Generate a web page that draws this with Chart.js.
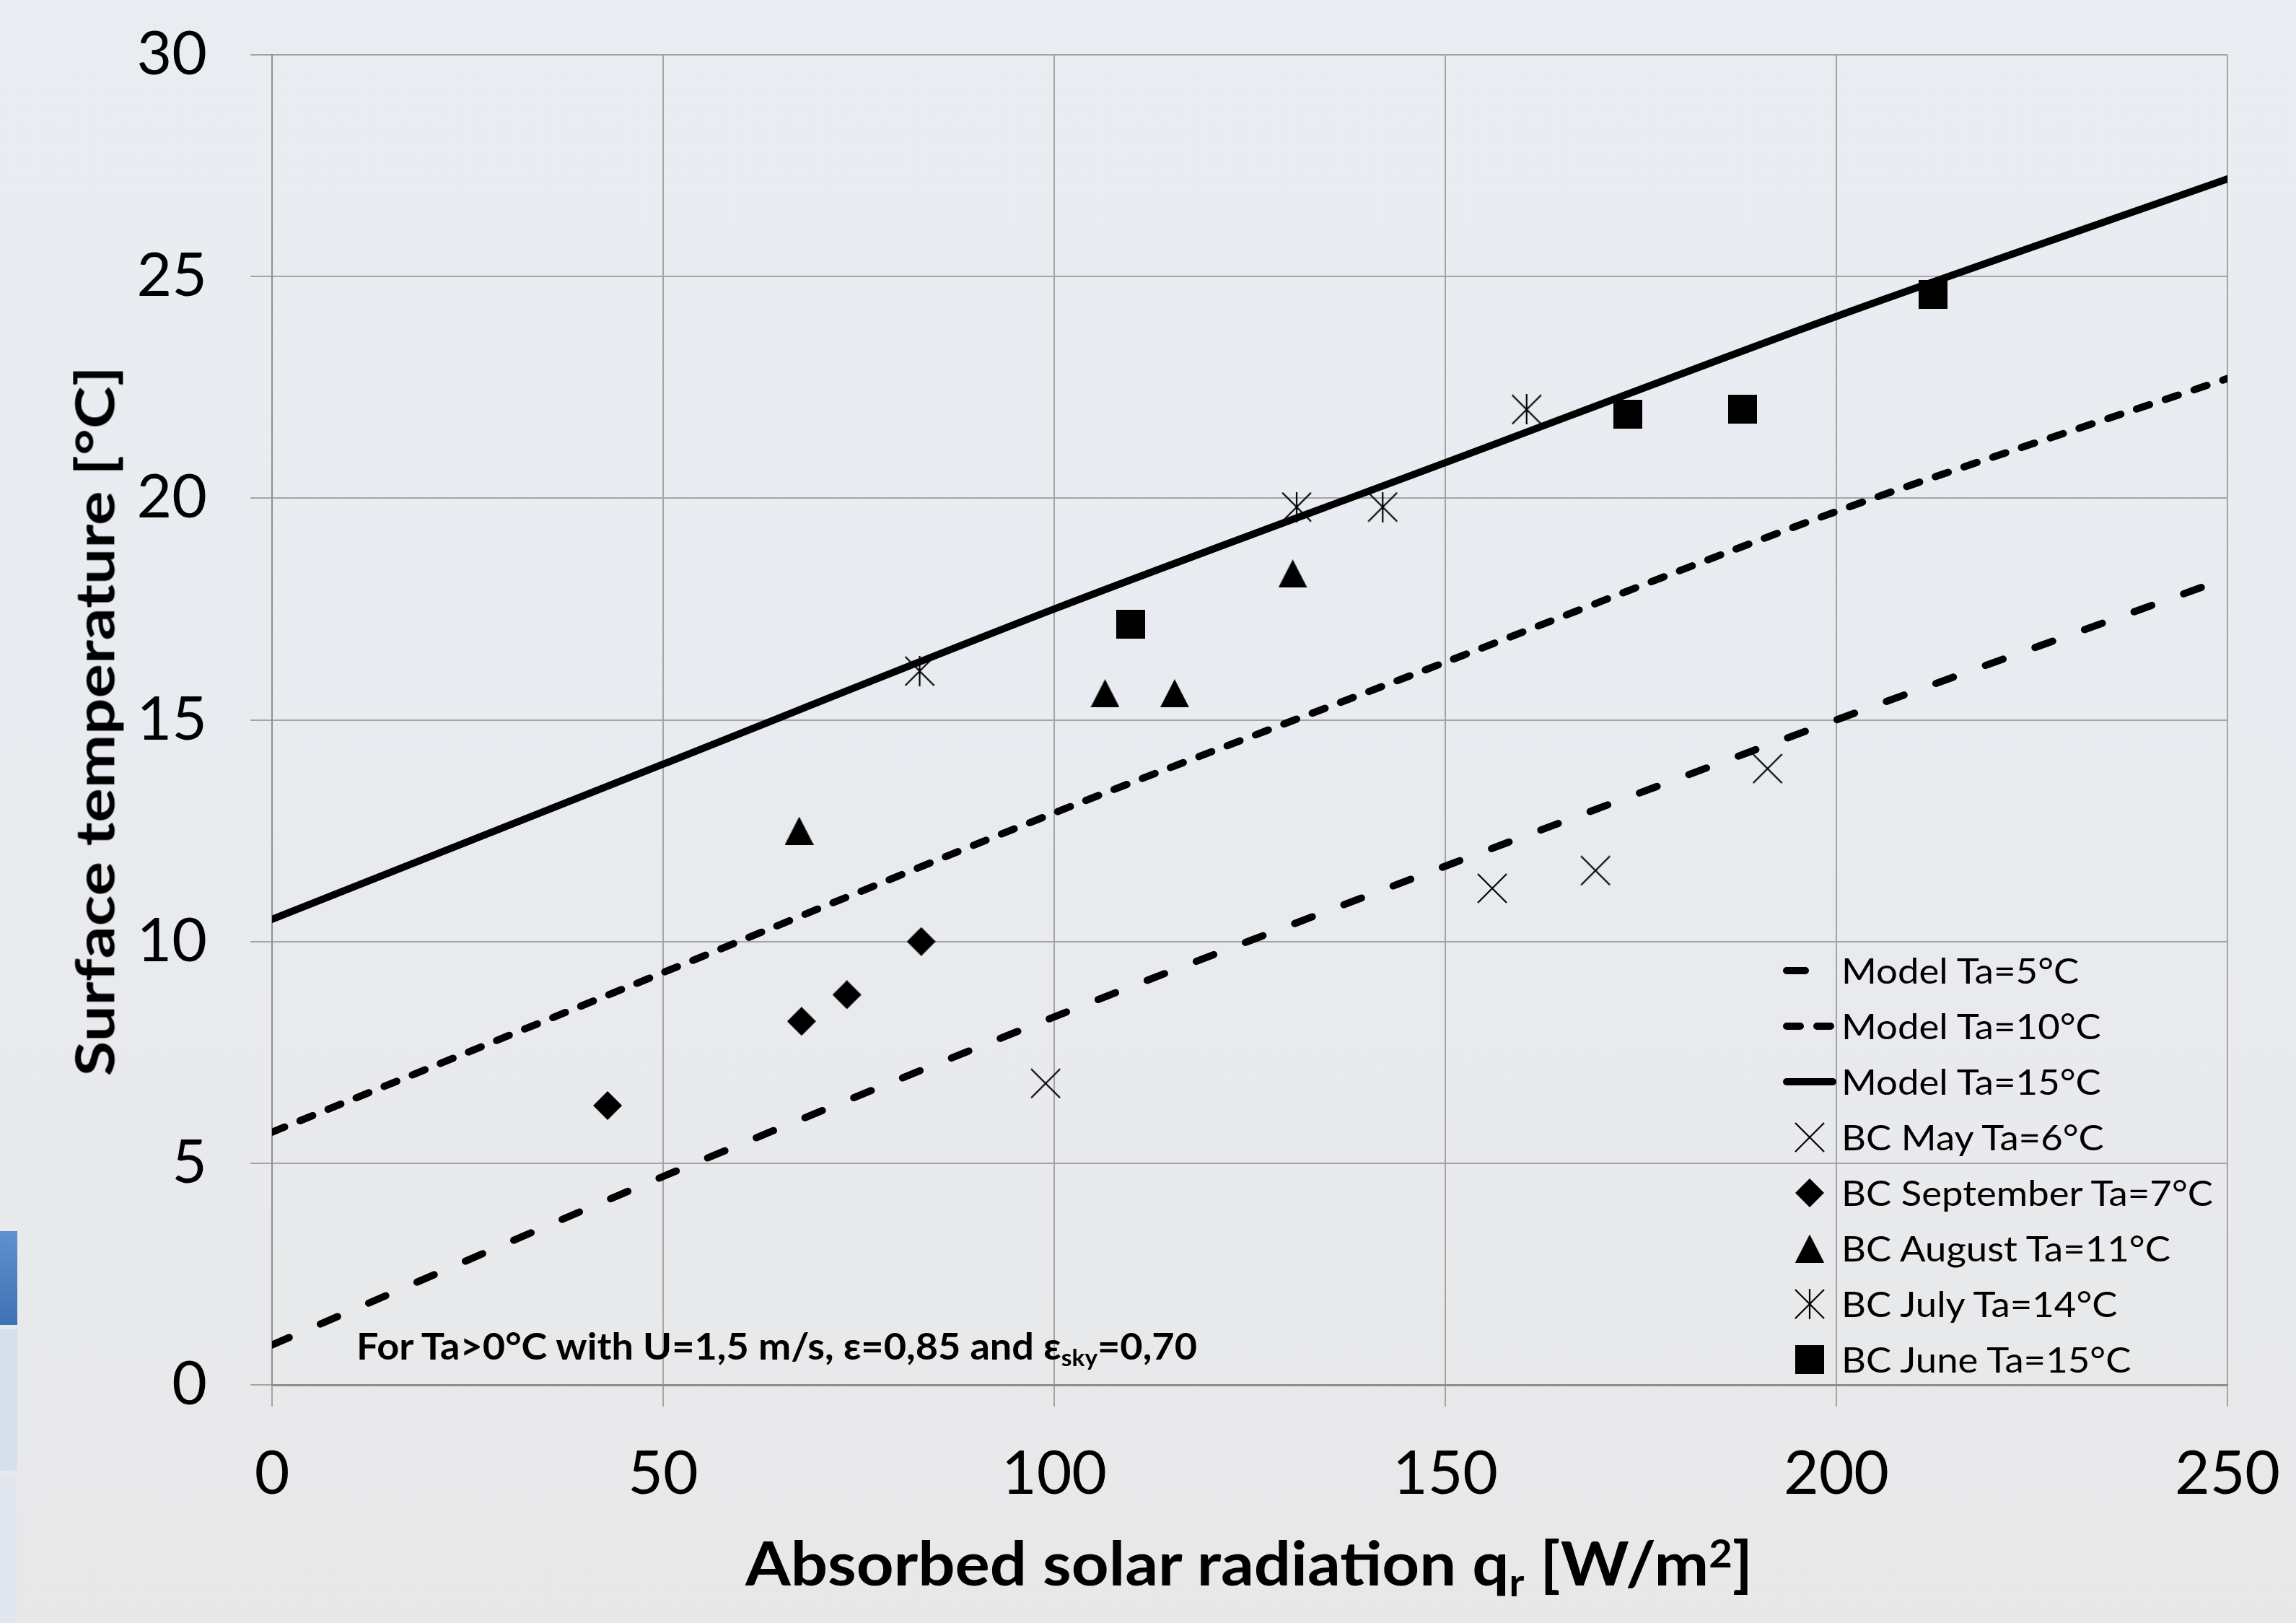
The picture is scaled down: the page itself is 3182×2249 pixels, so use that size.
<!DOCTYPE html>
<html><head><meta charset="utf-8">
<script src="https://cdn.jsdelivr.net/npm/chart.js@4.4.1/dist/chart.umd.min.js"></script>
<style>
html,body{margin:0;padding:0;}
body{width:3182px;height:2249px;overflow:hidden;position:relative;
  background:linear-gradient(180deg,#e9ecf1 0%,#e8ebef 45%,#e8e8e9 100%);
  font-family:Lato,'Open Sans',sans-serif;}
#c{position:absolute;left:0;top:0;}
.t{position:absolute;white-space:nowrap;color:#000;line-height:1.2;left:0;top:0;}
.t sub,.t sup{font-size:0.62em;line-height:0;position:relative;vertical-align:baseline;}
.t sub{top:0.28em;}
.t sup{top:-0.48em;}
.deco{position:absolute;left:0;width:24px;}
</style></head><body>
<div class="deco" style="top:1706px;height:130px;background:linear-gradient(180deg,#5f90cf,#3f72b4);"></div>
<div class="deco" style="top:1842px;height:196px;background:#d6dfec;"></div>
<div class="deco" style="top:2043px;height:206px;background:#e2e7ef;"></div>
<canvas id="c" width="3182" height="2249"></canvas>
<div id="ytitle" class="t" style="font-weight:700;font-size:74px">Surface temperature [°C]</div>
<div id="xtitle" class="t" style="font-weight:700;font-size:85px">Absorbed solar radiation q<sub>r</sub> [W/m<sup>2</sup>]</div>
<div id="note" class="t" style="font-weight:700;font-size:51px">For Ta&gt;0°C with U=1,5 m/s, ε=0,85 and ε<sub>sky</sub>=0,70</div>
<div id="legendText"></div>
<script>
// ---- data ----
const modelX   = [0, 50, 100, 150, 200, 250];
const model5   = [0.9, 4.7, 8.3, 11.7, 15.0, 18.2];
const model10  = [5.7, 9.3, 12.9, 16.3, 19.7, 22.7];
const model15  = [10.5, 14.0, 17.5, 20.8, 24.1, 27.2];

const mayX = [98.9, 156.0, 169.2, 191.2];
const mayY = [6.8, 11.2, 11.6, 13.9];
const sepX = [42.9, 67.7, 73.5, 83.0];
const sepY = [6.3, 8.2, 8.8, 10.0];
const augX = [67.4, 106.5, 115.4, 130.5];
const augY = [12.5, 15.6, 15.6, 18.3];
const julX = [82.8, 131.0, 142.0, 160.4];
const julY = [16.1, 19.8, 19.8, 22.0];
const junX = [109.8, 173.3, 188.0, 212.4];
const junY = [17.15, 21.9, 22.0, 24.6];

const seriesLabels = ['Model Ta=5°C','Model Ta=10°C','Model Ta=15°C','BC May Ta=6°C',
  'BC September Ta=7°C','BC August Ta=11°C','BC July Ta=14°C','BC June Ta=15°C'];
const xTicks = [0, 50, 100, 150, 200, 250];
const yTicks = [0, 5, 10, 15, 20, 25, 30];

const toXY = (xs, ys) => xs.map((x, i) => ({x, y: ys[i]}));

// ---- marker images ----
function mk(w, h, draw) {
  const c = document.createElement('canvas'); c.width = w; c.height = h;
  const g = c.getContext('2d'); g.fillStyle = '#000'; g.strokeStyle = '#000'; draw(g, w, h); return c;
}
const crossImg = mk(42, 42, (g) => { g.lineWidth = 2.2; g.beginPath(); g.moveTo(1,1); g.lineTo(41,41); g.moveTo(41,1); g.lineTo(1,41); g.stroke(); });
const starImg = mk(42, 42, (g) => { g.lineWidth = 2.2; g.beginPath(); g.moveTo(1,1); g.lineTo(41,41); g.moveTo(41,1); g.lineTo(1,41); g.moveTo(21,0); g.lineTo(21,42); g.stroke(); });
const diamondImg = mk(40, 40, (g) => { g.beginPath(); g.moveTo(20,0); g.lineTo(40,20); g.lineTo(20,40); g.lineTo(0,20); g.closePath(); g.fill(); });
const triImg = mk(40, 39, (g) => { g.beginPath(); g.moveTo(20,0); g.lineTo(40,39); g.lineTo(0,39); g.closePath(); g.fill(); });
const squareImg = mk(40, 40, (g) => { g.fillRect(0,0,40,40); });

const lineStyles = [[26,47],[19,23],[]];
const markerImgs = [crossImg, diamondImg, triImg, starImg, squareImg];

function lineDs(label, ys, dash) {
  return {label, data: toXY(modelX, ys), showLine: true, borderColor: '#000', borderWidth: 10,
    borderDash: dash, borderCapStyle: 'round', borderJoinStyle: 'round', pointRadius: 0,
    tension: 0.3, fill: false};
}
function ptDs(label, xs, ys, img) {
  return {label, data: toXY(xs, ys), showLine: false, pointStyle: img, pointRadius: 20,
    backgroundColor: '#000', borderColor: '#000'};
}

const GRID = '#a4a4a4';
const legendPlugin = {
  id: 'customLegend',
  afterDraw(chart) {
    const ctx = chart.ctx;
    const cx = 2508, y0 = 1345, dy = 77;
    ctx.save();
    ctx.strokeStyle = '#000'; ctx.lineWidth = 10; ctx.lineCap = 'round';
    for (let i = 0; i < 3; i++) {
      ctx.setLineDash(lineStyles[i]);
      ctx.beginPath(); ctx.moveTo(2476, y0 + dy*i); ctx.lineTo(2540, y0 + dy*i); ctx.stroke();
    }
    ctx.setLineDash([]);
    for (let i = 0; i < 5; i++) {
      const img = markerImgs[i];
      ctx.drawImage(img, cx - img.width/2, y0 + dy*(i+3) - img.height/2);
    }
    ctx.restore();
  }
};

function zeroPad(s) { s.paddingTop = 0; s.paddingBottom = 0; s.paddingLeft = 0; s.paddingRight = 0; }

const chart = new Chart(document.getElementById('c'), {
  type: 'scatter',
  data: { datasets: [
    lineDs(seriesLabels[0], model5, lineStyles[0]),
    lineDs(seriesLabels[1], model10, lineStyles[1]),
    lineDs(seriesLabels[2], model15, lineStyles[2]),
    ptDs(seriesLabels[3], mayX, mayY, crossImg),
    ptDs(seriesLabels[4], sepX, sepY, diamondImg),
    ptDs(seriesLabels[5], augX, augY, triImg),
    ptDs(seriesLabels[6], julX, julY, starImg),
    ptDs(seriesLabels[7], junX, junY, squareImg)
  ]},
  options: {
    responsive: false, animation: false, devicePixelRatio: 1,
    layout: {padding: {left: 0, top: 76, right: 95, bottom: 0}},
    plugins: {legend: {display: false}, tooltip: {enabled: false}},
    scales: {
      x: {type: 'linear', min: 0, max: 250,
        afterBuildTicks: (s) => { s.ticks = xTicks.map(v => ({value: v})); },
        ticks: {font: {family: 'Lato', size: 84}, color: '#000', padding: 44, maxRotation: 0},
        grid: {color: GRID, lineWidth: 2, tickLength: 30, tickColor: GRID},
        border: {color: '#8e8e8e', width: 3},
        afterFit: (s) => { s.height = 330; zeroPad(s); }},
      y: {type: 'linear', min: 0, max: 30,
        afterBuildTicks: (s) => { s.ticks = yTicks.map(v => ({value: v})); },
        ticks: {font: {family: 'Lato', size: 84}, color: '#000', padding: 60},
        grid: {color: GRID, lineWidth: 2, tickLength: 30, tickColor: GRID},
        border: {color: '#8e8e8e', width: 2},
        afterFit: (s) => { s.width = 377; zeroPad(s); }}
    }
  },
  plugins: [legendPlugin]
});

// ---- HTML text placement ----
function baselineOf(el) {
  const m = document.createElement('span');
  m.style.cssText = 'display:inline-block;width:0;height:0;';
  el.appendChild(m);
  const b = m.getBoundingClientRect().top - el.getBoundingClientRect().top;
  el.removeChild(m);
  return b;
}
function placeH(el, left, baseline, targetW) {
  const r = el.getBoundingClientRect();
  const b = baselineOf(el);
  el.style.transformOrigin = '0 0';
  el.style.left = left + 'px';
  el.style.top = (baseline - b) + 'px';
  el.style.transform = 'scaleX(' + (targetW / r.width) + ')';
}
placeH(document.getElementById('xtitle'), 1033, 2197, 1396);
placeH(document.getElementById('note'), 494, 1884, 1165);

(function () {
  const el = document.getElementById('ytitle');
  const r = el.getBoundingClientRect();
  const b = baselineOf(el);
  const s = 984 / r.width;
  const cxp = 158 - (b - r.height / 2), cyp = 999;
  el.style.transformOrigin = '50% 50%';
  el.style.left = (cxp - r.width / 2) + 'px';
  el.style.top = (cyp - r.height / 2) + 'px';
  el.style.transform = 'rotate(-90deg) scaleX(' + s + ')';
})();

(function () {
  const holder = document.getElementById('legendText');
  const els = seriesLabels.map((t) => {
    const d = document.createElement('div'); d.className = 't';
    d.style.fontSize = '49px'; d.textContent = t; holder.appendChild(d); return d;
  });
  const s = 515 / els[4].getBoundingClientRect().width;
  els.forEach((d, i) => {
    const b = baselineOf(d);
    d.style.transformOrigin = '0 0';
    d.style.left = '2552px';
    d.style.top = (1345 + 17.5 + 77 * i - b) + 'px';
    d.style.transform = 'scaleX(' + s + ')';
  });
})();
</script>
</body></html>
